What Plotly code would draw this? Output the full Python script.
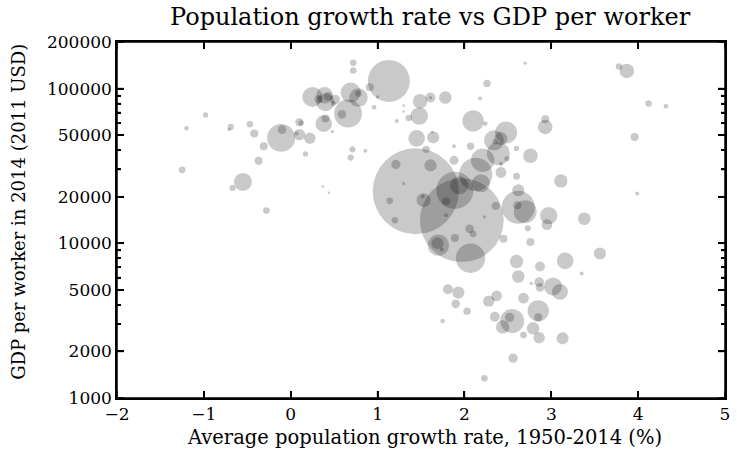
import math
import plotly.graph_objects as go

# Average population growth rate 1950-2014 (%)
growth_rate = [
    -0.98, -1.20, -0.69, -0.71, -0.47, -0.42, -0.31, -0.37, -1.25, -0.55, -0.67, -0.28,
    0.72, 0.72, 1.13, 0.25, 0.39, 0.40, 0.32, 0.43, 0.51, 0.49, 0.69, 0.78, 0.78, 0.66,
    0.59, 0.91, 1.00, 0.96, 0.38, 0.40, 0.10, 0.12, -0.11, -0.10, 0.10, 0.07, 0.22, 0.48,
    0.17, 0.71, 0.69, 0.86, 0.37, 0.44, 1.30, 1.30, 1.22, 1.36, 1.49, 1.61, 1.61, 1.78,
    1.48, 1.45, 1.64, 1.63, 1.56, 1.88, 1.88, 1.44, 1.21, 1.61, 1.30, 1.14, 1.53, 1.52,
    1.20, 1.79, 1.79, 1.97, 1.89, 1.94, 2.13, 2.19, 2.21, 2.34, 2.39, 2.48, 2.42, 2.35,
    2.24, 2.10, 2.26, 2.18, 2.70, 2.07, 2.49, 2.42, 2.60, 2.76, 2.42, 2.60, 2.62, 2.62,
    2.70, 2.61, 3.11, 2.93, 2.93, 3.78, 3.87, 4.12, 4.32, 3.96, 3.99,
    1.70, 1.69, 1.74, 1.89, 2.07, 1.81, 1.93, 1.90, 1.75, 2.03, 2.36, 2.23, 2.06, 2.10,
    2.97, 2.95, 3.38, 2.73, 2.45, 2.76, 3.56, 3.16, 2.60, 2.87, 3.35, 2.62, 2.77, 2.86,
    2.87, 3.02, 3.10, 2.37, 2.28, 2.68, 2.85, 2.85, 2.55, 2.52, 2.35, 2.44, 2.79, 2.68,
    2.86, 3.13, 2.56, 2.23,
]

# GDP per worker in 2014 (2011 USD)
gdp_per_worker = [
    67500, 55400, 56500, 54300, 58800, 51200, 42400, 34100, 29800, 24900, 22800, 16300,
    147000, 131000, 112000, 88300, 90500, 81600, 85300, 89100, 84900, 80000, 94200, 87500, 92800, 68900,
    68200, 102000, 88300, 75700, 59400, 64000, 60600, 60000, 48000, 54300, 50400, 51200, 47700, 52800,
    37800, 40500, 35800, 39700, 23300, 21200, 77600, 71000, 61800, 64600, 82800, 87500, 87500, 87500,
    66500, 47700, 48400, 52200, 40500, 42400, 34400, 21700, 32300, 31900, 24300, 18800, 19000, 20100,
    14100, 18700, 15200, 14100, 22000, 23700, 27900, 24400, 34400, 46300, 38000, 52000, 47500, 45300,
    59400, 61800, 108000, 86200, 146000, 42400, 35200, 32600, 41000, 36800, 28700, 27100, 22000, 17100,
    16000, 17600, 25300, 63300, 56500, 139000, 130000, 80000, 76900, 48700, 21000,
    9720, 10000, 9120, 10800, 8010, 5050, 4800, 4060, 3140, 3640, 17400, 14800, 12400, 11500,
    15100, 13200, 14400, 12500, 10700, 10200, 8590, 7700, 7630, 7080, 6380, 6100, 5500, 5610,
    5180, 5260, 4850, 4570, 4230, 4420, 3660, 3320, 3150, 3320, 3350, 2880, 2820, 2550,
    2450, 2430, 1810, 1340,
]

# Population in 2014 (millions) - bubble area
population_m = [
    5, 4, 7, 2, 8, 12, 12, 12, 8, 60, 7, 8,
    8, 8, 325, 74, 51, 60, 12, 14, 18, 5, 74, 64, 8, 144,
    14, 12, 2, 4, 51, 12, 12, 5, 144, 14, 24, 3, 24, 2,
    5, 7, 7, 3, 1.2, 1.2, 1.2, 1.2, 3, 8, 39, 18, 2, 29,
    56, 51, 27, 1.2, 10, 3, 15, 1364, 16, 28, 2, 8, 36, 3,
    8, 12, 3, 1295, 255, 60, 204, 60, 101, 74, 97, 89, 31, 5,
    4, 84, 10, 3, 2, 10, 5, 3, 5, 39, 22, 9, 27, 200,
    97, 12, 33, 12, 39, 8, 39, 8, 4, 12, 3,
    84, 27, 3, 12, 159, 18, 27, 14, 4, 10, 12, 2, 14, 8,
    56, 21, 29, 7, 12, 12, 27, 51, 33, 18, 3, 29, 2, 18,
    14, 60, 47, 21, 24, 21, 84, 12, 106, 16, 18, 33, 29, 8,
    24, 27, 16, 8,
]

y_tick_vals = [1000, 2000, 5000, 10000, 20000, 50000, 100000, 200000]
y_tick_text = ["1000", "2000", "5000", "10000", "20000", "50000", "100000", "200000"]
y_minor_vals = [3000, 4000, 6000, 7000, 8000, 9000, 30000, 40000, 60000, 70000, 80000, 90000]
x_tick_vals = [-2, -1, 0, 1, 2, 3, 4, 5]
x_tick_text = ["\u22122", "\u22121", "0", "1", "2", "3", "4", "5"]

FONT = "DejaVu Serif"
W, H = 737, 459
ML, MR, MT, MB = 117, 7, 42, 61
PW, PH = W - ML - MR, H - MT - MB
MAJOR, MINOR = 7, 4
Y_LOG_RANGE = [3, math.log10(200000)]

# bubble diameter proportional to sqrt(population) (area ~ population)
bubble_diam = [2.33 * math.sqrt(p) for p in population_m]

fig = go.Figure(
    go.Scatter(
        x=growth_rate,
        y=gdp_per_worker,
        mode="markers",
        marker=dict(
            size=bubble_diam,
            sizemode="diameter",
            sizeref=1,
            sizemin=0,
            color="rgba(0,0,0,0.3)",
            line=dict(width=0),
        ),
        hoverinfo="x+y",
    )
)

axis_common = dict(
    showline=True,
    linecolor="black",
    linewidth=1.5,
    mirror="ticks",
    ticks="inside",
    ticklen=MAJOR,
    tickwidth=1.5,
    tickcolor="black",
    showgrid=False,
    zeroline=False,
    tickfont=dict(family=FONT, size=17, color="black"),
)


def y_frac(v):
    return (math.log10(v) - Y_LOG_RANGE[0]) / (Y_LOG_RANGE[1] - Y_LOG_RANGE[0])


# frame and tick marks (at the axis tick values)
tick_line = dict(color="black", width=1.5)
shapes = [dict(type="rect", xref="paper", yref="paper", x0=0, x1=1, y0=0, y1=1,
               line=dict(color="black", width=1.5), fillcolor="rgba(0,0,0,0)", layer="above")]
for xv in x_tick_vals:
    shapes.append(dict(type="line", xref="x", yref="paper", x0=xv, x1=xv, y0=0, y1=MAJOR / PH, line=tick_line))
    shapes.append(dict(type="line", xref="x", yref="paper", x0=xv, x1=xv, y0=1 - MAJOR / PH, y1=1, line=tick_line))
for vals, ln in ((y_tick_vals, MAJOR), (y_minor_vals, MINOR)):
    for yv in vals:
        yf = y_frac(yv)
        shapes.append(dict(type="line", xref="paper", yref="paper", x0=0, x1=ln / PW, y0=yf, y1=yf, line=tick_line))
        shapes.append(dict(type="line", xref="paper", yref="paper", x0=1 - ln / PW, x1=1, y0=yf, y1=yf, line=tick_line))

annotations = [
    dict(text="Population growth rate vs GDP per worker", xref="paper", yref="paper",
         x=0.515, y=1 + 25 / PH, xanchor="center", yanchor="middle", showarrow=False,
         font=dict(family=FONT, size=24, color="black")),
    dict(text="Average population growth rate, 1950-2014 (%)", xref="paper", yref="paper",
         x=0.505, y=-39 / PH, xanchor="center", yanchor="middle", showarrow=False,
         font=dict(family=FONT, size=19.5, color="black")),
    dict(text="GDP per worker in 2014 (2011 USD)", xref="paper", yref="paper",
         x=-(ML - 18) / PW, y=0.5 + 8 / PH, xanchor="center", yanchor="middle", showarrow=False,
         textangle=-90, font=dict(family=FONT, size=18, color="black")),
]

fig.update_layout(
    width=W,
    height=H,
    margin=dict(l=ML, r=MR, t=MT, b=MB),
    paper_bgcolor="white",
    plot_bgcolor="white",
    showlegend=False,
    shapes=shapes,
    annotations=annotations,
    xaxis=dict(
        range=[-2, 5],
        tickvals=x_tick_vals,
        ticktext=x_tick_text,
        **axis_common,
    ),
    yaxis=dict(
        type="log",
        range=Y_LOG_RANGE,
        tickvals=y_tick_vals,
        ticktext=y_tick_text,
        minor=dict(
            tickvals=y_minor_vals,
            ticks="inside",
            ticklen=MINOR,
            tickwidth=1.5,
            tickcolor="black",
            showgrid=False,
        ),
        **axis_common,
    ),
)

fig.write_html(
    "out.html",
    config={"displayModeBar": False},
    post_script="document.body.style.margin='0px';document.body.style.padding='0px';",
)
